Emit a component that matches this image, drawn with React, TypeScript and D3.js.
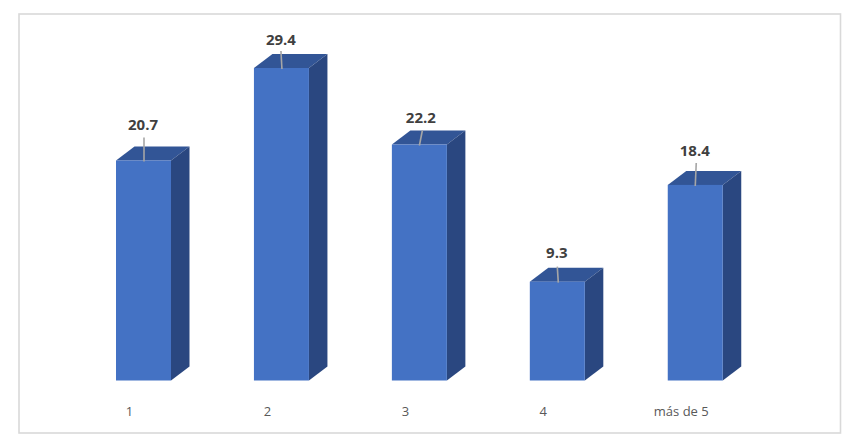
import React from "react";
import * as d3 from "d3";

const categories = ["1", "2", "3", "4", "más de 5"];
const values = [20.7, 29.4, 22.2, 9.3, 18.4];

const W = 866, H = 446;
const baseY = 380.5, topY = 68;
const barW = 55, depthX = 18.5, depthY = 14;
// leader line layout: x offsets at top and bottom, rise above the bar, label offsets
const leaderLayout = [
  { top: 0.5, bot: 0.5, rise: 23, labelDy: 35, labelDx: 0 },
  { top: -0.5, bot: 0.5, rise: 17, labelDy: 28, labelDx: 0 },
  { top: 3, bot: 0, rise: 14, labelDy: 27, labelDx: 2 },
  { top: 0, bot: 1, rise: 15, labelDy: 29, labelDx: 0 },
  { top: 1, bot: 0, rise: 22, labelDy: 34, labelDx: 0 },
];

const x = d3.scalePoint<string>().domain(categories).range([143.5, 695.25]);
const y = d3.scaleLinear().domain([0, 29.4]).range([baseY, topY]);
const pts = (p: [number, number][]) => p.map((q) => q.join(",")).join(" ");
const FONT = "'Open Sans', 'Noto Sans', sans-serif";

export default function App() {
  return (
    <svg width={W} height={H} viewBox={`0 0 ${W} ${H}`} style={{ position: "absolute", left: 0, top: 0, background: "#fff" }}>
      <rect x={19} y={14} width={821.5} height={419} fill="#fff" stroke="#d9d9d9" strokeWidth={1.6} />
      {categories.map((c, i) => {
        const cx = x(c)!;
        const l = cx - barW / 2, r = cx + barW / 2, t = y(values[i]);
        const lay = leaderLayout[i];
        return (
          <g key={c}>
            <polygon points={pts([[l, t], [l + depthX, t - depthY], [r + depthX, t - depthY], [r, t]])} fill="#325596" />
            <polygon points={pts([[r, t], [r + depthX, t - depthY], [r + depthX, baseY - depthY], [r, baseY]])} fill="#2a4780" />
            <rect x={l} y={t} width={barW} height={baseY - t} fill="#4472c4" />
            <line x1={cx + lay.top} y1={t - lay.rise} x2={cx + lay.bot} y2={t + 1} stroke="#a6a6a6" strokeWidth={1.6} />
            <text x={cx - 0.5 + lay.labelDx} y={t - lay.labelDy + 5} textAnchor="middle" fontFamily={FONT} fontSize={15} fontWeight={700} fill="#404040">
              {values[i].toFixed(1)}
            </text>
            <text x={cx - 14} y={415.5} textAnchor="middle" fontFamily={FONT} fontSize={13} fill="#595959">
              {c}
            </text>
          </g>
        );
      })}
    </svg>
  );
}
